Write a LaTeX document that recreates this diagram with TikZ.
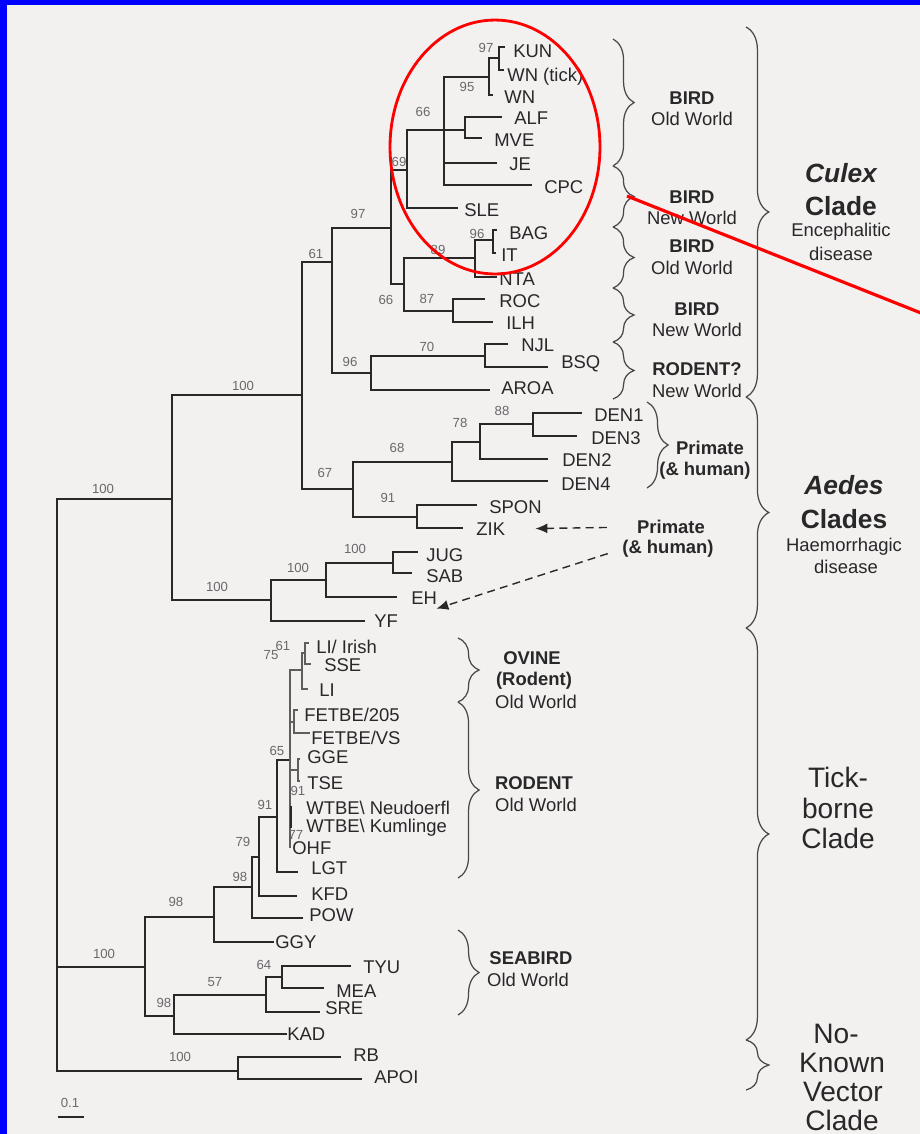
\documentclass[tikz,border=0pt]{standalone}
\usepackage{fontspec}
\setmainfont{Liberation Sans}
\usetikzlibrary{arrows.meta,decorations.pathreplacing}
\definecolor{paper}{RGB}{243,240,240}
\definecolor{ink}{RGB}{40,40,40}
\definecolor{frame}{RGB}{0,0,255}

\begin{document}
\begin{tikzpicture}[x=0.02cm, y=-0.02cm,
  br/.style={draw=ink, line width=1.1pt},
  fine/.style={draw=ink!75, line width=0.6pt},
  tx/.style={anchor=west, inner sep=0pt, text=ink, font=\fontsize{10.5}{12}\selectfont},
  bs/.style={inner sep=0pt, text=ink!70, font=\fontsize{7.5}{9}\selectfont},
  hb/.style={inner sep=0pt, text=ink, font=\bfseries\fontsize{10.5}{12}\selectfont},
  hw/.style={inner sep=0pt, text=ink, font=\fontsize{10.5}{12}\selectfont},
  cb/.style={inner sep=0pt, text=ink, font=\bfseries\fontsize{15}{18}\selectfont},
  cw/.style={inner sep=0pt, text=ink, font=\fontsize{16}{19}\selectfont},
  brc/.style={draw=ink!85, line width=0.7pt, decorate, decoration={brace, amplitude=#1}},
  brc/.default=12pt,
  dsh/.style={draw=ink, line width=0.8pt, dash pattern=on 4.5pt off 3pt, -{Latex[length=2.4mm, width=2mm]}},
  hl/.style={draw=red, line width=1.6pt}]
% page
\fill[paper] (0,0) rectangle (920,1134);
\fill[frame] (0,0) rectangle (7,1134);
\fill[frame] (0,0) rectangle (920,5);
\useasboundingbox (0,0) rectangle (920,1134);
% root
\coordinate (root) at (57,785);
\coordinate (nA) at (172,499);
\coordinate (nT) at (145,967);
\coordinate (nN) at (238,1071);
\draw[br] (root) |- (nA) (root) |- (nT) (root) |- (nN);
% mosquito-borne
\coordinate (nB) at (302,395);
\coordinate (nY) at (271,600);
\coordinate (nC) at (332,262);
\coordinate (nD) at (353,489);
\coordinate (nE) at (391,228);
\coordinate (nF) at (371,373);
\coordinate (nG) at (407,170);
\coordinate (nH) at (404,284);
\coordinate (nI) at (444,130);
\coordinate (nJ) at (489,77);
\coordinate (nK) at (465,130);
\coordinate (n97) at (499,58);
\coordinate (n89) at (475,258);
\coordinate (n96) at (493,240);
\coordinate (n87) at (453,311);
\coordinate (n70) at (485,356);
\coordinate (n68) at (452,462);
\coordinate (n78) at (480,442);
\coordinate (n88) at (533,424);
\coordinate (n91) at (417,517);
\coordinate (nYb) at (326,580);
\coordinate (nYc) at (393,563);
% tips
\coordinate (kun) at (505,47);
\coordinate (wnt) at (504,70);
\coordinate (wn) at (493,95);
\coordinate (alf) at (502,117);
\coordinate (mve) at (482,138);
\coordinate (je) at (497,163);
\coordinate (cpc) at (532,185);
\coordinate (sle) at (458,208);
\coordinate (bag) at (497,230);
\coordinate (it) at (496,253);
\coordinate (nta) at (497,277);
\coordinate (roc) at (485,299);
\coordinate (ilh) at (493,322);
\coordinate (njl) at (508,344);
\coordinate (bsq) at (548,367);
\coordinate (aroa) at (490,390);
\coordinate (den1) at (582,413);
\coordinate (den3) at (577,436);
\coordinate (den2) at (548,459);
\coordinate (den4) at (548,481);
\coordinate (spon) at (477,505);
\coordinate (zik) at (463,528);
\coordinate (jug) at (418,552);
\coordinate (sab) at (412,573);
\coordinate (eh) at (397,597);
\coordinate (yf) at (365,621);
\draw[br] (nA) |- (nB) (nA) |- (nY);
\draw[br] (nB) |- (nC) (nB) |- (nD);
\draw[br] (nC) |- (nE) (nC) |- (nF);
\draw[br] (nE) |- (nG) (nE) |- (nH);
\draw[br] (nG) |- (nI) (nG) |- (sle);
\draw[br] (nI) |- (nJ) (nI) |- (nK) (nI) |- (je) (nI) |- (cpc);
\draw[br] (nJ) |- (n97) (nJ) |- (wn);
\draw[br] (n97) |- (kun) (n97) |- (wnt);
\draw[br] (nK) |- (alf) (nK) |- (mve);
\draw[br] (nH) |- (n89) (nH) |- (n87);
\draw[br] (n89) |- (n96) (n89) |- (nta);
\draw[br] (n96) |- (bag) (n96) |- (it);
\draw[br] (n87) |- (roc) (n87) |- (ilh);
\draw[br] (nF) |- (n70) (nF) |- (aroa);
\draw[br] (n70) |- (njl) (n70) |- (bsq);
\draw[br] (nD) |- (n68) (nD) |- (n91);
\draw[br] (n68) |- (n78) (n68) |- (den4);
\draw[br] (n78) |- (n88) (n78) |- (den2);
\draw[br] (n88) |- (den1) (n88) |- (den3);
\draw[br] (n91) |- (spon) (n91) |- (zik);
\draw[br] (nY) |- (nYb) (nY) |- (yf);
\draw[br] (nYb) |- (nYc) (nYb) |- (eh);
\draw[br] (nYc) |- (jug) (nYc) |- (sab);
% tick-borne
\coordinate (n98a) at (214,917);
\coordinate (n98b) at (252,887);
\coordinate (n79) at (259,857);
\coordinate (n91t) at (277,817);
\coordinate (n65) at (290,760);
\coordinate (n75) at (302,670);
\coordinate (n61) at (305,653);
\coordinate (nFE) at (294,722);
\coordinate (nGT) at (298,770);
\coordinate (n98c) at (174,1016);
\coordinate (n57) at (266,995);
\coordinate (n64) at (282,977);
\coordinate (lii) at (309,643);
\coordinate (sse) at (311,664);
\coordinate (li) at (308,689);
\coordinate (fe205) at (298,710);
\coordinate (fevs) at (310,733);
\coordinate (gge) at (300,759);
\coordinate (tse) at (300,781);
\coordinate (wtn) at (291,806);
\coordinate (wtk) at (291,828);
\coordinate (ohf) at (291,847);
\coordinate (lgt) at (298,872);
\coordinate (kfd) at (297,896);
\coordinate (pow) at (303,918);
\coordinate (ggy) at (274,942);
\coordinate (tyu) at (351,966);
\coordinate (mea) at (324,988);
\coordinate (sre) at (320,1012);
\coordinate (kad) at (287,1034);
\coordinate (rb) at (341,1057);
\coordinate (apoi) at (362,1079);
\draw[br] (nT) |- (n98a) (nT) |- (n98c);
\draw[br] (n98a) |- (n98b) (n98a) |- (ggy);
\draw[br] (n98b) |- (n79) (n98b) |- (pow);
\draw[br] (n79) |- (n91t) (n79) |- (kfd);
\draw[br] (n91t) |- (n65) (n91t) |- (lgt);
\draw[fine] (n65) |- (n75) (n65) |- (nFE) (n65) |- (nGT) (n65) |- (ohf);
\draw[fine] (n75) |- (n61) (n75) |- (li);
\draw[fine] (n61) |- (lii) (n61) |- (sse);
\draw[fine] (nFE) |- (fe205) (nFE) |- (fevs);
\draw[fine] (nGT) |- (gge) (nGT) |- (tse);
\draw[br] (wtn) -- (wtk);
\draw[br] (n98c) |- (n57) (n98c) |- (kad);
\draw[br] (n57) |- (n64) (n57) |- (sre);
\draw[br] (n64) |- (tyu) (n64) |- (mea);
\draw[br] (nN) |- (rb) (nN) |- (apoi);
% bootstrap values
\node[bs] (bA) at (103,489) {100};
\node[bs] (bB) at (243,386) {100};
\node[bs] (bC) at (316,254) {61};
\node[bs] (bE) at (358,214) {97};
\node[bs] (bG) at (399,162) {69};
\node[bs] (bI) at (423,112) {66};
\node[bs] (bJ) at (467,87) {95};
\node[bs] (b97) at (486,48) {97};
\node[bs] (bH) at (386,300) {66};
\node[bs] (b89) at (438,250) {89};
\node[bs] (b96) at (477,234) {96};
\node[bs] (b87) at (427,299) {87};
\node[bs] (bF) at (350,362) {96};
\node[bs] (b70) at (427,347) {70};
\node[bs] (bD) at (325,473) {67};
\node[bs] (b68) at (397,448) {68};
\node[bs] (b78) at (460,423) {78};
\node[bs] (b88) at (502,411) {88};
\node[bs] (b91) at (388,498) {91};
\node[bs] (bY) at (217,587) {100};
\node[bs] (bYb) at (298,568) {100};
\node[bs] (bYc) at (355,549) {100};
\node[bs] (bT) at (104,954) {100};
\node[bs] (b98a) at (176,902) {98};
\node[bs] (b98b) at (240,877) {98};
\node[bs] (b79) at (243,842) {79};
\node[bs] (b91t) at (265,805) {91};
\node[bs] (b65) at (277,751) {65};
\node[bs] (b75) at (271,655) {75};
\node[bs] (b61) at (283,646) {61};
\node[bs] (bGT) at (298,791) {91};
\node[bs] (b77) at (296,835) {77};
\node[bs] (b98c) at (164,1003) {98};
\node[bs] (b57) at (215,982) {57};
\node[bs] (b64) at (264,965) {64};
\node[bs] (bN) at (180,1057) {100};
% taxa
\node[tx] (lKUN) at (513,51) {KUN};
\node[tx] (lWNT) at (507,77) {WN (tick)};
\node[tx] (lWN) at (504,97) {WN};
\node[tx] (lALF) at (514,118) {ALF};
\node[tx] (lMVE) at (494,140) {MVE};
\node[tx] (lJE) at (509,164) {JE};
\node[tx] (lCPC) at (544,187) {CPC};
\node[tx] (lSLE) at (464,210) {SLE};
\node[tx] (lBAG) at (509,233) {BAG};
\node[tx] (lIT) at (501,255) {IT};
\node[tx] (lNTA) at (499,279) {NTA};
\node[tx] (lROC) at (499,301) {ROC};
\node[tx] (lILH) at (506,323) {ILH};
\node[tx] (lNJL) at (521,345) {NJL};
\node[tx] (lBSQ) at (561,364) {BSQ};
\node[tx] (lAROA) at (501,388) {AROA};
\node[tx] (lDEN1) at (594,415) {DEN1};
\node[tx] (lDEN3) at (591,438) {DEN3};
\node[tx] (lDEN2) at (562,460) {DEN2};
\node[tx] (lDEN4) at (561,484) {DEN4};
\node[tx] (lSPON) at (489,507) {SPON};
\node[tx] (lZIK) at (476,529) {ZIK};
\node[tx] (lJUG) at (426,555) {JUG};
\node[tx] (lSAB) at (426,576) {SAB};
\node[tx] (lEH) at (411,598) {EH};
\node[tx] (lYF) at (374,621) {YF};
\node[tx] (lLII) at (316,647) {LI/ Irish};
\node[tx] (lSSE) at (324,665) {SSE};
\node[tx] (lLI) at (319,690) {LI};
\node[tx] (lFE205) at (304,715) {FETBE/205};
\node[tx] (lFEVS) at (311,738) {FETBE/VS};
\node[tx] (lGGE) at (307,757) {GGE};
\node[tx] (lTSE) at (307,783) {TSE};
\node[tx] (lWTN) at (306,808) {WTBE\textbackslash{} Neudoerfl};
\node[tx] (lWTK) at (306,828) {WTBE\textbackslash{} Kumlinge};
\node[tx] (lOHF) at (292,848) {OHF};
\node[tx] (lLGT) at (311,868) {LGT};
\node[tx] (lKFD) at (311,894) {KFD};
\node[tx] (lPOW) at (309,915) {POW};
\node[tx] (lGGY) at (275,942) {GGY};
\node[tx] (lTYU) at (363,967) {TYU};
\node[tx] (lMEA) at (336,991) {MEA};
\node[tx] (lSRE) at (325,1008) {SRE};
\node[tx] (lKAD) at (287,1034) {KAD};
\node[tx] (lRB) at (353,1055) {RB};
\node[tx] (lAPOI) at (374,1077) {APOI};
% scale
\node[bs] (sc) at (70,1103) {0.1};
\draw[br, line width=0.8pt] (sc.south west) ++(-2,9) coordinate (sc1) -- ++(26,0) coordinate (sc2);
% host braces
\draw[brc] (613,39) -- (613,166);
\draw[brc] (613,166) -- (613,227);
\draw[brc] (613,227) -- (613,288);
\draw[brc] (613,288) -- (613,342);
\draw[brc] (613,342) -- (613,399);
\draw[brc] (647,402) -- (647,488);
\draw[brc] (458,638) -- (458,702);
\draw[brc] (458,702) -- (458,878);
\draw[brc] (458,930) -- (458,1015);
\node[hb] (h1a) at (692,98) {BIRD};
\node[hw] (h1b) at (692,119) {Old World};
\node[hb] (h2a) at (692,197) {BIRD};
\node[hw] (h2b) at (692,218) {New World};
\node[hb] (h3a) at (692,246) {BIRD};
\node[hw] (h3b) at (692,268) {Old World};
\node[hb] (h4a) at (697,309) {BIRD};
\node[hw] (h4b) at (697,330) {New World};
\node[hb] (h5a) at (697,369) {RODENT?};
\node[hw] (h5b) at (697,391) {New World};
\node[hb] (h6a) at (710,448) {Primate};
\node[hb] (h6b) at (705,471) {(\& human)};
\node[hb] (prim2) at (671,527) {Primate};
\node[hb] (hum2) at (668,549) {(\& human)};
\node[hb] (h7a) at (532,658) {OVINE};
\node[hb] (h7b) at (534,681) {(Rodent)};
\node[hw] (h7c) at (536,702) {Old World};
\node[hb] (h8a) at (534,783) {RODENT};
\node[hw] (h8b) at (536,805) {Old World};
\node[hb] (h9a) at (531,958) {SEABIRD};
\node[hw] (h9b) at (528,980) {Old World};
\draw[dsh, shorten <=0.6cm, shorten >=0.6cm] (prim2.west) -- (lZIK.east);
\draw[dsh, shorten <=0.3cm, shorten >=0.8cm] (hum2.west) -- (lYF.east);
% clade braces
\draw[brc=13pt] (746,27) -- (746,397);
\draw[brc=13pt] (746,397) -- (746,628);
\draw[brc=13pt] (746,628) -- (746,1040);
\draw[brc=13pt] (746,1040) -- (746,1090);
\node[cb] (c1a) at (841,173) {\itshape Culex};
\node[cb] (c1b) at (841,206) {Clade};
\node[hw] (c1c) at (841,232) {Encephalitic};
\node[hw] (c1d) at (841,254) {disease};
\node[cb] (c2a) at (844,485) {\itshape Aedes};
\node[cb] (c2b) at (844,519) {Clades};
\node[hw] (c2c) at (844,547) {Haemorrhagic};
\node[hw] (c2d) at (846,567) {disease};
\node[cw] (c3a) at (838,777) {Tick-};
\node[cw] (c3b) at (838,808) {borne};
\node[cw] (c3c) at (838,838) {Clade};
\node[cw] (c4a) at (836,1034) {No-};
\node[cw] (c4b) at (842,1063) {Known};
\node[cw] (c4c) at (843,1092) {Vector};
\node[cw] (c4d) at (842,1120) {Clade};
% highlight
\draw[hl] (495,147) ellipse [x radius=2.1cm, y radius=2.54cm];
\coordinate (rl1) at (627,196);
\coordinate (rl2) at (921,313);
\draw[hl, line width=1.8pt] (rl1) -- (rl2);
\end{tikzpicture}
\end{document}
